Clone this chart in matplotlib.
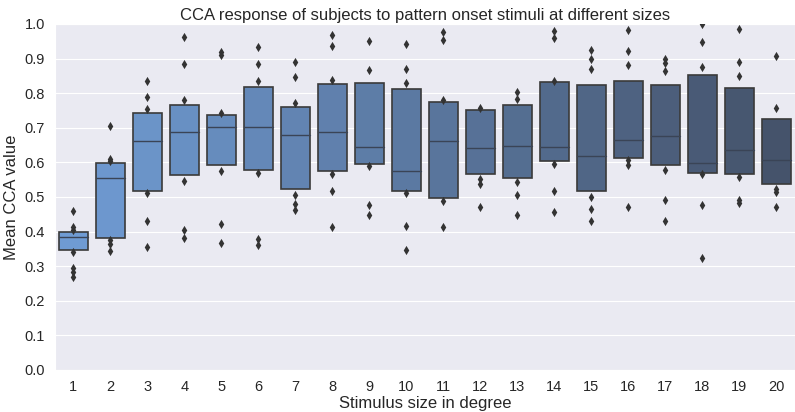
import matplotlib
matplotlib.use("Agg")
import matplotlib.pyplot as plt
import numpy as np
import seaborn as sns
from matplotlib.colors import LinearSegmentedColormap

# Stimulus sizes (degrees) and the letter-value box summary per size.
sizes = [str(s) for s in range(1, 21)]
box_low = [0.346, 0.380, 0.516, 0.562, 0.592, 0.578, 0.524, 0.575, 0.594, 0.518,
           0.496, 0.566, 0.555, 0.603, 0.516, 0.613, 0.593, 0.570, 0.567, 0.537]
box_high = [0.399, 0.598, 0.742, 0.765, 0.737, 0.819, 0.760, 0.826, 0.829, 0.812,
            0.773, 0.751, 0.767, 0.833, 0.822, 0.835, 0.824, 0.852, 0.816, 0.724]
medians = [0.383, 0.555, 0.663, 0.689, 0.703, 0.701, 0.680, 0.688, 0.644, 0.576,
           0.663, 0.640, 0.648, 0.645, 0.618, 0.665, 0.677, 0.599, 0.637, 0.607]

# Points outside the boxes, one list per stimulus size.
outliers = [
    [0.460, 0.413, 0.405, 0.341, 0.295, 0.283, 0.270],
    [0.706, 0.611, 0.604, 0.375, 0.365, 0.344],
    [0.836, 0.789, 0.753, 0.512, 0.430, 0.355],
    [0.962, 0.885, 0.779, 0.547, 0.404, 0.382],
    [0.918, 0.911, 0.743, 0.576, 0.423, 0.368],
    [0.933, 0.883, 0.836, 0.570, 0.378, 0.362],
    [0.891, 0.846, 0.772, 0.505, 0.481, 0.461],
    [0.968, 0.937, 0.838, 0.566, 0.518, 0.414],
    [0.951, 0.867, 0.590, 0.477, 0.449],
    [0.942, 0.871, 0.830, 0.512, 0.415, 0.346],
    [0.977, 0.953, 0.780, 0.488, 0.414],
    [0.757, 0.551, 0.536, 0.470],
    [0.803, 0.782, 0.544, 0.505, 0.447],
    [0.980, 0.959, 0.836, 0.596, 0.516, 0.456],
    [0.926, 0.900, 0.871, 0.501, 0.465, 0.430],
    [0.981, 0.921, 0.882, 0.608, 0.592, 0.471],
    [0.900, 0.888, 0.864, 0.578, 0.492, 0.430],
    [0.999, 0.948, 0.876, 0.566, 0.477, 0.325],
    [0.986, 0.891, 0.850, 0.559, 0.492, 0.483],
    [0.906, 0.758, 0.522, 0.514, 0.471],
]

sns.set_style("darkgrid")
plt.rcParams["font.family"] = ["Liberation Sans", "DejaVu Sans"]

cmap = LinearSegmentedColormap.from_list("sizes", ["#6f9bd3", "#45536b"])
colors = [cmap(i / (len(sizes) - 1)) for i in range(len(sizes))]

fig = plt.figure(figsize=(7.95, 4.12), dpi=100)
ax = fig.add_axes([0.069, 0.102, 0.931, 0.840])

x = np.arange(len(sizes))
width = 0.8
heights = np.array(box_high) - np.array(box_low)
ax.bar(x, heights, bottom=box_low, width=width, color=colors,
       edgecolor="#3a3a3a", linewidth=1.2, zorder=2)
for i, med in enumerate(medians):
    ax.plot([i - width / 2, i + width / 2], [med, med], color="#3a4456",
            linewidth=1.0, zorder=3)
for i, pts in enumerate(outliers):
    ax.scatter([i] * len(pts), pts, marker="d", s=22, color="#333333",
               linewidths=0, zorder=3)

ax.set_xlim(-0.5, len(sizes) - 0.5)
ax.set_ylim(0, 1.0)
ax.set_xticks(x)
ax.set_xticklabels(sizes)
ax.set_yticks(np.arange(0, 1.01, 0.1))
ax.set_yticklabels([f"{v:.1f}" for v in np.arange(0, 1.01, 0.1)])
ax.xaxis.grid(False)
ax.tick_params(labelsize=10.5, colors="#262626")
ax.set_xlabel("Stimulus size in degree", fontsize=12, color="#262626", labelpad=2)
ax.set_ylabel("Mean CCA value", fontsize=12, color="#262626", labelpad=4)
ax.set_title("CCA response of subjects to pattern onset stimuli at different sizes",
             fontsize=12, color="#262626", pad=3)

fig.savefig("out.png", dpi=100)
